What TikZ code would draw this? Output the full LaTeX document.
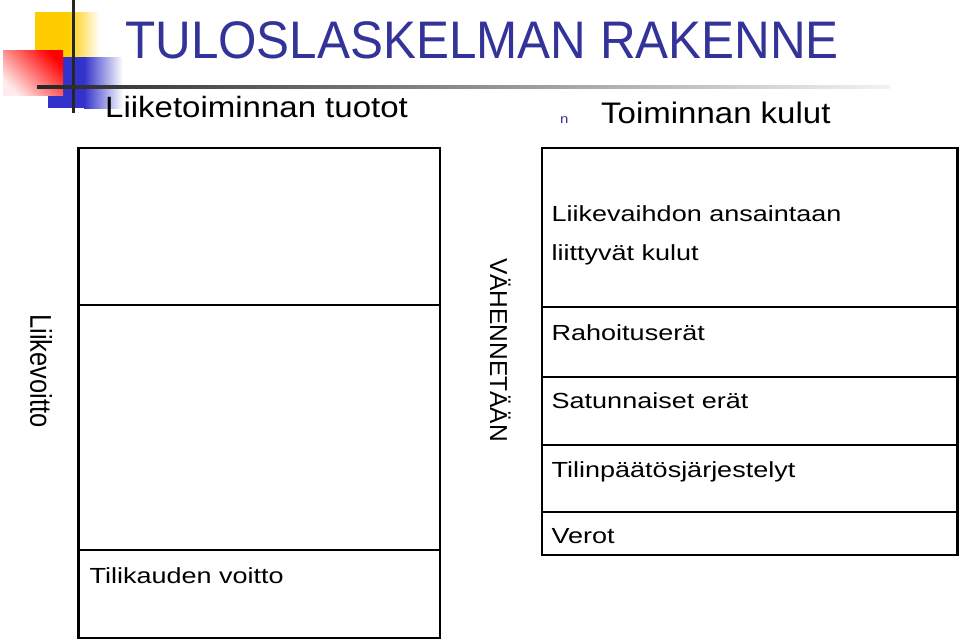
\documentclass[tikz,border=0pt]{standalone}
\usepackage{fontspec}
\setmainfont{Liberation Sans}
\usetikzlibrary{positioning}

\definecolor{titleblue}{RGB}{51,51,153}
\definecolor{logoyellow}{RGB}{255,204,0}
\definecolor{logoblue}{RGB}{51,51,204}
\definecolor{logored}{RGB}{255,0,0}

% squeeze a text vertically (#1) or along its length (#2)
\newcommand{\vsquash}[2]{\scalebox{1}[#1]{#2}}
\newcommand{\hsquash}[2]{\scalebox{#1}[1]{#2}}

\begin{document}
\begin{tikzpicture}[
        x=1pt, y=-1pt,
        frame/.style={
            draw,
            line width=2.8pt
        },
        divider/.style={
            line width=1.8pt
        },
        heading/.style={
            anchor=base west,
            inner sep=0pt,
            font=\fontsize{33}{38}\selectfont
        },
        boxtext/.style={
            anchor=base west,
            inner sep=0pt,
            font=\fontsize{27}{32}\selectfont
        },
        sidetext/.style={
            rotate=-90,
            anchor=south,
            inner sep=0pt
        }
    ]
    \useasboundingbox (0,0) rectangle (960,641);

    % Logo
    \fill[logoyellow] (35,12) rectangle (68,57);
    \shade[left color=logoyellow, right color=white] (68,12) rectangle (100,57);
    \fill[logoblue] (48,57) rectangle (84,108);
    \shade[left color=logoblue, right color=white] (84,57) rectangle (123,108);
    \shade[top color=logored, bottom color=logored!8, shading angle=-45] (3,50) rectangle (63,95);
    \fill[black!85] (71.5,0) rectangle (74.5,113);
    \shade[left color=black!85, right color=black!5] (37,85.5) rectangle (890,88.5);

    % Title and headings
    \node[anchor=base west, inner sep=0pt, text=titleblue,
          font=\fontsize{49.4}{56}\selectfont] (title) at (125,58)
        {\vsquash{1.07}{TULOSLASKELMAN RAKENNE}};
    \node[heading] (income) at (105,117) {\vsquash{0.89}{Liiketoiminnan tuotot}};
    \node[anchor=base west, inner sep=0pt, text=titleblue,
          font=\fontsize{15}{18}\selectfont] (bullet) at (560,123) {\vsquash{0.85}{n}};
    \node[heading] (costs) at (601,123) {\vsquash{0.9}{Toiminnan kulut}};

    % Left column
    \draw[frame] (78.5,148) rectangle (440,638);
    \draw[divider] (78.5,305) -- (440,305);
    \draw[divider] (78.5,550) -- (440,550);
    \node[boxtext] (netprofit) at (89.5,583) {\vsquash{0.81}{Tilikauden voitto}};

    % Right column
    \draw[frame] (542,148) rectangle (957.5,555);
    \foreach \y in {306.7, 377.3, 445, 512.3}
        \draw[divider] (542,\y) -- (957.5,\y);
    \node[boxtext] (revenue) at (551.5,221) {\vsquash{0.81}{Liikevaihdon ansaintaan}};
    \node[boxtext] (revenuetwo) at (551.5,260) {\vsquash{0.81}{liittyvät kulut}};
    \node[boxtext] (financing) at (551.5,340) {\vsquash{0.81}{Rahoituserät}};
    \node[boxtext] (extraordinary) at (551.5,408) {\vsquash{0.81}{Satunnaiset erät}};
    \node[boxtext] (appropriations) at (551.5,477) {\vsquash{0.81}{Tilinpäätösjärjestelyt}};
    \node[boxtext] (taxes) at (551.5,543) {\vsquash{0.81}{Verot}};

    % Vertical labels
    \node[sidetext, font=\fontsize{30}{36}\selectfont] (operprofit) at (30,371)
        {\hsquash{0.85}{Liikevoitto}};
    \node[sidetext, font=\fontsize{24.5}{30}\selectfont] (reduce) at (490,350)
        {VÄHENNETÄÄN};

\end{tikzpicture}
\end{document}
